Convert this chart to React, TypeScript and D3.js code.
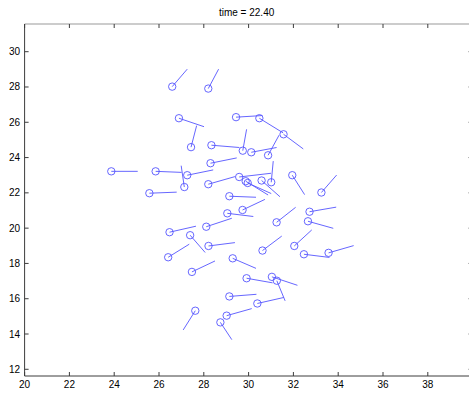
import React from "react";
import * as d3 from "d3";

const titleText = "time = 22.40";
const xTicks = [20, 22, 24, 26, 28, 30, 32, 34, 36, 38];
const yTicks = [12, 14, 16, 18, 20, 22, 24, 26, 28, 30];

// particle positions
const px = [
  26.59, 28.2, 26.89, 27.43, 28.34, 28.3, 23.87, 25.85, 27.13, 27.26,
  28.2, 25.57, 29.14, 29.44, 30.48, 31.56, 29.74, 30.12, 30.87, 31.95,
  33.25, 31.01, 29.58, 29.87, 30.58, 29.05, 29.73, 28.11, 26.47, 27.39,
  28.21, 26.41, 29.29, 27.47, 29.14, 27.62, 29.02, 28.74, 30.62, 32.04,
  32.47, 33.57, 29.91, 31.04, 31.26, 30.39, 32.72, 32.65, 31.25, 29.96,
];
const py = [
  28.02, 27.91, 26.23, 24.59, 24.7, 23.68, 23.22, 23.22, 22.33, 23.0,
  22.49, 21.98, 21.81, 26.29, 26.23, 25.32, 24.39, 24.3, 24.13, 23.0,
  22.02, 22.6, 22.9, 22.66, 22.7, 20.84, 21.03, 20.08, 19.77, 19.6,
  18.99, 18.35, 18.29, 17.52, 16.13, 15.32, 15.04, 14.66, 18.73, 18.99,
  18.52, 18.6, 17.16, 17.24, 17.02, 15.73, 20.93, 20.39, 20.33, 22.56,
];
// velocity vectors
const pu = [
  0.67, 0.46, 1.12, 0.25, 1.25, 1.17, 1.18, 1.16, -0.14, 1.16,
  1.19, 1.22, 1.19, 1.17, 1.06, 0.88, 0.17, 1.13, 0.49, 0.55,
  0.68, 0.09, 1.42, 1.0, 0.82, 1.16, 1.0, 1.14, 1.18, 0.67,
  1.18, 0.94, 1.04, 1.03, 1.21, -0.54, 1.12, 0.51, 0.86, 0.78,
  1.14, 1.12, 1.16, 1.14, 0.37, 1.18, 1.19, 1.13, 0.85, 1.05,
];
const pv = [
  0.99, 1.1, -0.48, 1.22, -0.13, 0.3, 0.0, -0.06, 1.21, 0.3,
  0.43, 0.06, -0.06, 0.09, -0.83, -0.83, 1.21, 0.27, 1.14, -1.1,
  0.99, 1.2, 0.21, -0.78, -0.92, -0.18, 0.6, 0.48, 0.34, -0.98,
  0.19, 0.74, -0.57, 0.62, 0.12, -1.09, 0.4, -0.98, 0.82, 0.91,
  -0.18, 0.41, -0.26, -0.48, -1.14, 0.34, 0.26, -0.4, 0.85, -0.6,
];

const W = 469;
const H = 394;
const left = 24.6;
const right = 472.6;
const top = 24;
const bottom = 376;

export default function App() {
  const x = d3.scaleLinear().domain([20, 40]).range([left, right]);
  const y = d3.scaleLinear().domain([11.62, 31.57]).range([bottom, top]);
  const axisColor = "#3c3c3c";
  const font = "'Liberation Sans', Arial, Helvetica, sans-serif";
  const tl = 4;
  const mark = "#5555ff";
  return (
    <div style={{ position: "absolute", left: 0, top: 0 }}>
      <svg width={W} height={H} style={{ display: "block", background: "#fff" }}>
        <rect x={0} y={0} width={W} height={H} fill="#fff" />
        <text x={(left + right) / 2 - 2} y={15.5} textAnchor="middle" fontFamily={font} fontSize={10} fill="#000">
          {titleText}
        </text>
        {/* axes box */}
        <line x1={left} x2={right} y1={top} y2={top} stroke="#999" strokeWidth={1.2} />
        <line x1={right} x2={right} y1={top} y2={bottom} stroke={axisColor} strokeWidth={1} />
        <line x1={left} x2={right} y1={bottom} y2={bottom} stroke={axisColor} strokeWidth={1} />
        <line x1={left} x2={left} y1={top} y2={bottom} stroke={axisColor} strokeWidth={1} />
        {xTicks.map((t) => (
          <g key={"x" + t}>
            <line x1={x(t)} x2={x(t)} y1={bottom} y2={bottom - tl} stroke={axisColor} />
            <line x1={x(t)} x2={x(t)} y1={top} y2={top + tl} stroke={axisColor} />
            <text x={x(t)} y={388} textAnchor="middle" fontFamily={font} fontSize={10} fill="#000">
              {t}
            </text>
          </g>
        ))}
        {yTicks.map((t) => (
          <g key={"y" + t}>
            <line x1={left} x2={left + tl} y1={y(t)} y2={y(t)} stroke={axisColor} />
            <line x1={right} x2={right - tl} y1={y(t)} y2={y(t)} stroke={axisColor} />
            <text x={20} y={y(t) + 3.5} textAnchor="end" fontFamily={font} fontSize={10} fill="#000">
              {t}
            </text>
          </g>
        ))}
        {px.map((vx, i) => (
          <g key={"p" + i}>
            <line
              x1={x(vx)}
              y1={y(py[i])}
              x2={x(vx + pu[i])}
              y2={y(py[i] + pv[i])}
              stroke={mark}
              strokeWidth={0.9}
            />
            <circle cx={x(vx)} cy={y(py[i])} r={3.7} fill="none" stroke={mark} strokeWidth={0.9} />
          </g>
        ))}
      </svg>
    </div>
  );
}
